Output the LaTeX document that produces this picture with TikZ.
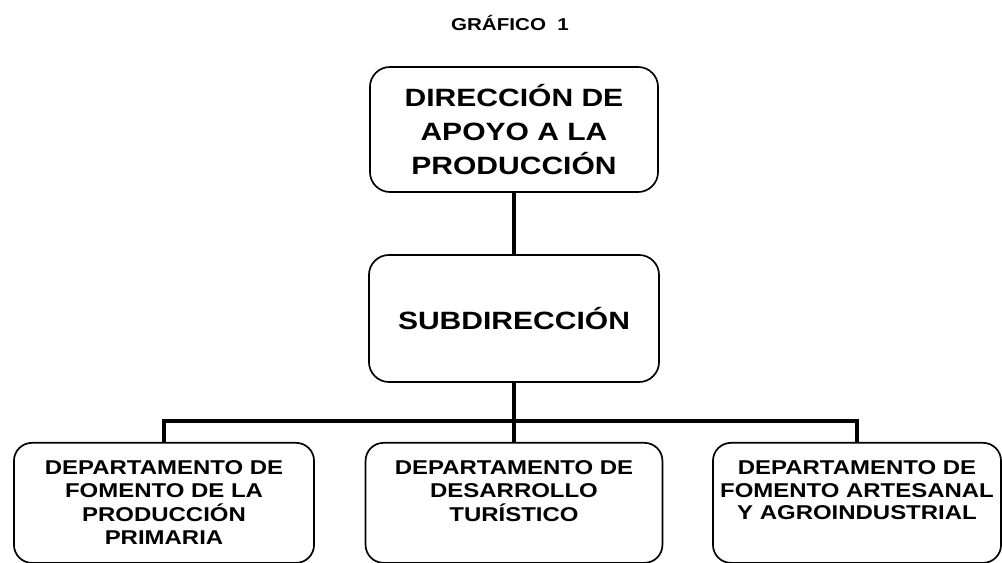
\documentclass[tikz,border=0pt]{standalone}
\usepackage{fontspec}
\setmainfont{Liberation Sans}[FakeStretch=1.2]
\newcommand{\toplines}[1]{\begin{tabular}[t]{@{}c@{}}#1\end{tabular}}
\begin{document}
	\begin{tikzpicture}[x=0.025cm, y=-0.025cm,
		titletext/.style={font=\bfseries\fontsize{12.2}{14}\selectfont},
		bigbox/.style={draw, rounded corners=0.5cm, line width=1.2pt, align=center,
		font=\bfseries\fontsize{17.8}{24.2}\selectfont},
		deptbox/.style={draw, rounded corners=0.45cm, line width=1.2pt,
		anchor=north, inner sep=0pt, text height=0.8cm, text depth=2.2cm,
		font=\bfseries\fontsize{14.2}{16}\selectfont},
		conn/.style={line width=3.5pt, line join=miter}
		]
		\useasboundingbox (0,0) rectangle (1002,563);
		
		\node[titletext](T) at (510,23){GRÁFICO\ \ 1};
		
		\node[bigbox, minimum width=7.2cm, minimum height=3.125cm](D0) at (514,129.5)
		{DIRECCIÓN DE\\APOYO A LA\\PRODUCCIÓN};
		\node[bigbox, minimum width=7.25cm, minimum height=3.175cm](S1) at (514,318.5)
		{SUBDIRECCIÓN};
		
		\node[deptbox, minimum width=7.5cm](D1) at (164,442)
		{\toplines{DEPARTAMENTO DE\\FOMENTO DE LA\\PRODUCCIÓN\\PRIMARIA}};
		\node[deptbox, minimum width=7.42cm](D2) at (514,442)
		{\toplines{DEPARTAMENTO DE\\DESARROLLO\\TURÍSTICO}};
		\node[deptbox, minimum width=7.2cm](D3) at (857,442)
		{\toplines{DEPARTAMENTO DE\\FOMENTO ARTESANAL\\Y AGROINDUSTRIAL}};
		
		\coordinate (J) at (514,421);
		
		\draw[conn] (D0) -- (S1);
		\draw[conn] (S1) -- (D2);
		\draw[conn] (D1.north) |- (J) -| (D3.north);
	\end{tikzpicture}
\end{document}
